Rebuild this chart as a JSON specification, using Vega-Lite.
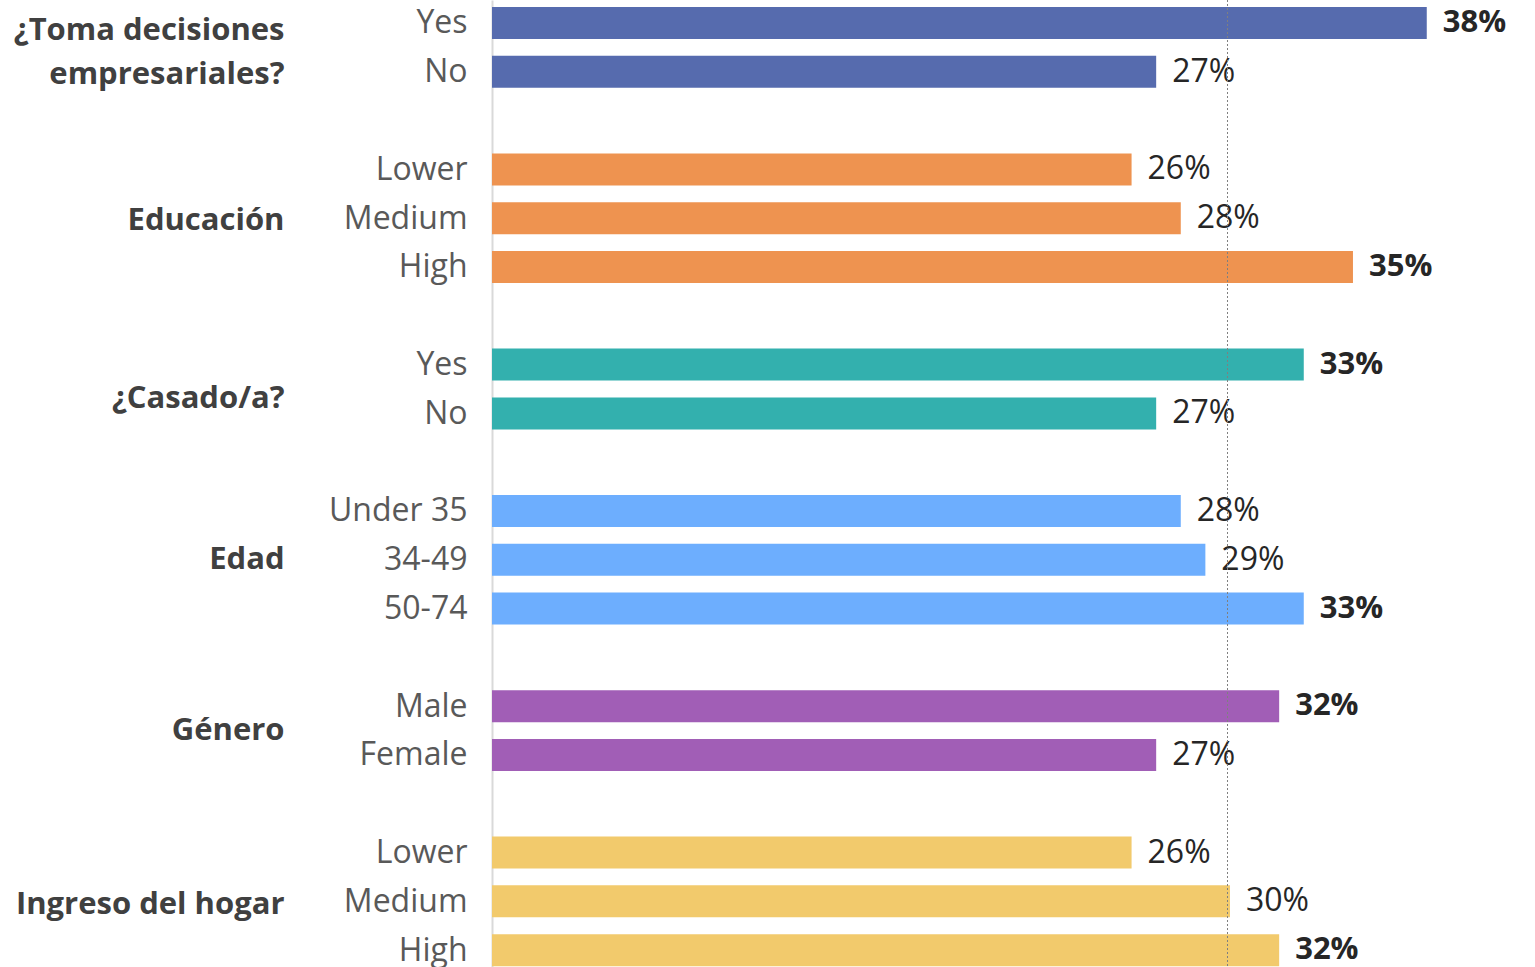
{
  "$schema": "https://vega.github.io/schema/vega-lite/v6.json",
  "width": 1043,
  "height": 967,
  "autosize": {"type": "none"},
  "padding": {"left": 492, "top": 0, "right": 0, "bottom": 0},
  "background": "white",
  "config": {"view": {"stroke": null}, "font": "Open Sans"},
  "data": {"values": [
    {"slot": 0, "group": "¿Toma decisiones empresariales?", "cat": "Yes", "value": 0.38},
    {"slot": 1, "group": "¿Toma decisiones empresariales?", "cat": "No", "value": 0.27},
    {"slot": 3, "group": "Educación", "cat": "Lower", "value": 0.26},
    {"slot": 4, "group": "Educación", "cat": "Medium", "value": 0.28},
    {"slot": 5, "group": "Educación", "cat": "High", "value": 0.35},
    {"slot": 7, "group": "¿Casado/a?", "cat": "Yes", "value": 0.33},
    {"slot": 8, "group": "¿Casado/a?", "cat": "No", "value": 0.27},
    {"slot": 10, "group": "Edad", "cat": "Under 35", "value": 0.28},
    {"slot": 11, "group": "Edad", "cat": "34-49", "value": 0.29},
    {"slot": 12, "group": "Edad", "cat": "50-74", "value": 0.33},
    {"slot": 14, "group": "Género", "cat": "Male", "value": 0.32},
    {"slot": 15, "group": "Género", "cat": "Female", "value": 0.27},
    {"slot": 17, "group": "Ingreso del hogar", "cat": "Lower", "value": 0.26},
    {"slot": 18, "group": "Ingreso del hogar", "cat": "Medium", "value": 0.30},
    {"slot": 19, "group": "Ingreso del hogar", "cat": "High", "value": 0.32}
  ]},
  "encoding": {
    "x": {"field": "value", "type": "quantitative", "scale": {"domain": [0, 0.424], "nice": false, "zero": true, "padding": 0}, "axis": null}
  },
  "layer": [
    {
      "mark": {"type": "bar", "orient": "horizontal", "height": 32},
      "encoding": {
        "y": {"field": "slot", "type": "quantitative",
          "scale": {"domain": [-0.471, 19.345], "nice": false, "zero": false, "reverse": true, "padding": 0},
          "axis": {
            "title": null, "grid": false, "ticks": false,
            "domain": true, "domainColor": "#d9d9d9", "domainWidth": 2,
            "values": [0, 1, 3, 4, 5, 7, 8, 10, 11, 12, 14, 15, 17, 18, 19],
            "labelExpr": "{'0':'Yes','1':'No','3':'Lower','4':'Medium','5':'High','7':'Yes','8':'No','10':'Under 35','11':'34-49','12':'50-74','14':'Male','15':'Female','17':'Lower','18':'Medium','19':'High'}[datum.value]",
            "labelFont": "Open Sans", "labelFontSize": 32, "labelColor": "#595959",
            "labelPadding": 25, "labelBaseline": "middle", "labelFlush": false, "labelOverlap": false, "labelBound": false, "labelLimit": 0
          }
        },
        "color": {"field": "group", "type": "nominal", "legend": null,
          "scale": {"domain": ["¿Toma decisiones empresariales?", "Educación", "¿Casado/a?", "Edad", "Género", "Ingreso del hogar"],
            "range": ["#566BAE", "#EE9350", "#33B0AE", "#6DAEFE", "#A15EB6", "#F2CA6C"]}}
      }
    },
    {
      "transform": [{"filter": "datum.value < 0.31"}],
      "mark": {"type": "text", "align": "left", "baseline": "middle", "dx": 16, "fontSize": 32, "font": "Open Sans", "color": "#262626"},
      "encoding": {
        "y": {"field": "slot", "type": "quantitative",
          "axis": {
            "orient": "left", "offset": 208, "title": null, "grid": false, "ticks": false, "domain": false,
            "values": [0.15, 4.04, 7.7, 11, 14.5, 18.06],
            "labelExpr": "{'0.15':['¿Toma decisiones','empresariales?'],'4.04':'Educación','7.7':'¿Casado/a?','11':'Edad','14.5':'Género','18.06':'Ingreso del hogar'}[datum.value]",
            "labelFont": "Open Sans", "labelFontSize": 31, "labelFontWeight": "bold", "labelColor": "#404040",
            "labelPadding": 0, "labelBaseline": "middle", "labelAlign": "right", "labelLineHeight": 44,
            "labelFlush": false, "labelOverlap": false, "labelBound": false, "labelLimit": 0
          }
        },
        "text": {"field": "value", "type": "quantitative", "format": ".0%"}
      }
    },
    {
      "transform": [{"filter": "datum.value >= 0.31"}],
      "mark": {"type": "text", "align": "left", "baseline": "middle", "dx": 16, "fontSize": 31, "fontWeight": "bold", "font": "Open Sans", "color": "#262626"},
      "encoding": {
        "y": {"field": "slot", "type": "quantitative", "axis": null},
        "text": {"field": "value", "type": "quantitative", "format": ".0%"}
      }
    },
    {
      "mark": {"type": "rule", "color": "#7f7f7f", "strokeDash": [2, 2], "strokeWidth": 1},
      "encoding": {"x": {"datum": 0.299}}
    }
  ],
  "resolve": {"axis": {"y": "independent"}}
}
